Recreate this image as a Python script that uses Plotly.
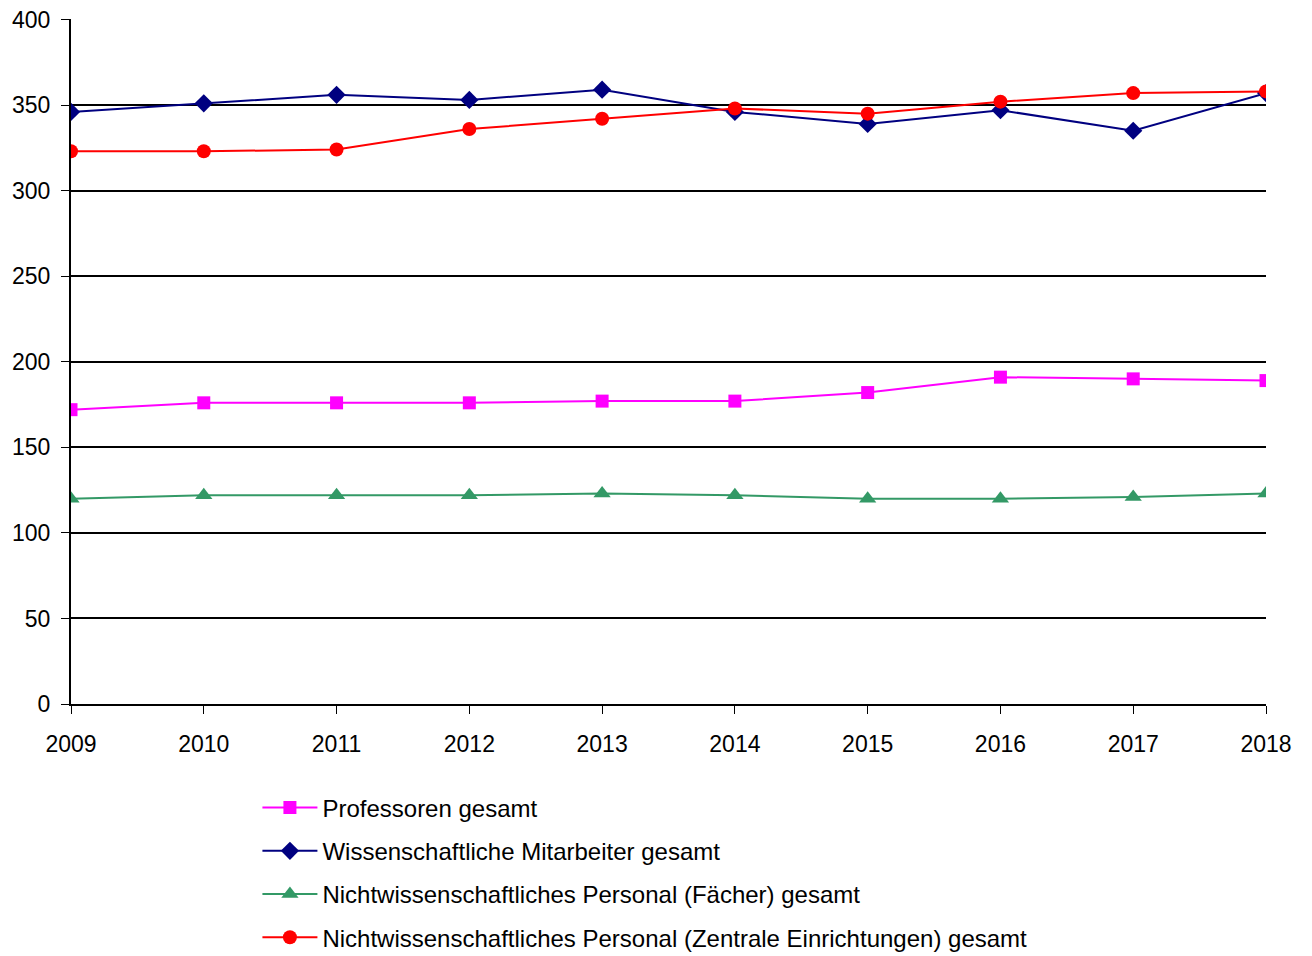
"""
Personalentwicklung 2009-2018 als Liniendiagramm.
"""
import plotly.graph_objects as go

years = [2009, 2010, 2011, 2012, 2013, 2014, 2015, 2016, 2017, 2018]

professoren = [172, 176, 176, 176, 177, 177, 182, 191, 190, 189]
wiss_mitarbeiter = [346, 351, 356, 353, 359, 346, 339, 347, 335, 357]
nichtwiss_faecher = [120, 122, 122, 122, 123, 122, 120, 120, 121, 123]
nichtwiss_zentral = [323, 323, 324, 336, 342, 348, 345, 352, 357, 358]

series = [
    ("Professoren gesamt", professoren, "#FF00FF", "square", 13),
    ("Wissenschaftliche Mitarbeiter gesamt", wiss_mitarbeiter, "#000080", "diamond", 14),
    ("Nichtwissenschaftliches Personal (Fächer) gesamt", nichtwiss_faecher, "#339966", "triangle-up", 15),
    ("Nichtwissenschaftliches Personal (Zentrale Einrichtungen) gesamt", nichtwiss_zentral, "#FF0000", "circle", 14),
]

fig = go.Figure()
for i, (name, values, color, symbol, size) in enumerate(series):
    fig.add_trace(go.Scatter(
        x=years,
        y=values,
        name=name,
        mode="lines+markers",
        line=dict(color=color, width=2),
        marker=dict(color=color, symbol=symbol, size=size),
        legendgroup=str(i),
    ))

# the page body has an 8px margin, so the figure is a bit smaller than the window
fig.update_layout(
    width=1304,
    height=948,
    paper_bgcolor="white",
    plot_bgcolor="white",
    font=dict(family="Liberation Sans, Arial, sans-serif", size=23, color="black"),
    margin=dict(t=11, b=252, l=63, r=46, autoexpand=False),
    showlegend=True,
    legend=dict(
        x=0.156,
        y=-0.119,
        xanchor="left",
        yanchor="top",
        traceorder="grouped",
        tracegroupgap=9,
        itemwidth=55,
        font=dict(size=24),
    ),
)
fig.update_xaxes(
    range=[2009, 2018],
    tickvals=years,
    ticks="outside",
    ticklen=8,
    tickcolor="black",
    ticklabelstandoff=10,
    ticklabeloverflow="allow",
    showgrid=False,
    showline=True,
    linecolor="black",
    linewidth=2,
    zeroline=False,
)
fig.update_yaxes(
    range=[0, 400.3],
    tickvals=[0, 50, 100, 150, 200, 250, 300, 350, 400],
    ticks="outside",
    ticklen=8,
    tickcolor="black",
    ticklabelstandoff=6,
    ticklabeloverflow="allow",
    showgrid=True,
    gridcolor="black",
    gridwidth=1.5,
    showline=True,
    linecolor="black",
    linewidth=2,
    zeroline=False,
)

fig.write_html("out.html")
